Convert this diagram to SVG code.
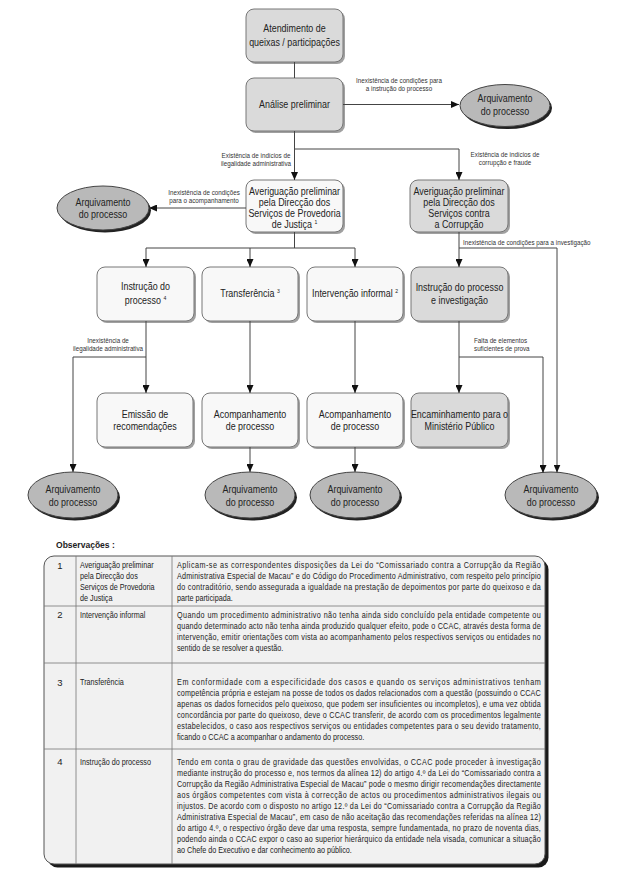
<svg xmlns="http://www.w3.org/2000/svg" width="619" height="873" viewBox="0 0 619 873">
<defs>
<marker id="ah" markerWidth="8" markerHeight="7" refX="8" refY="3.5" orient="auto" markerUnits="userSpaceOnUse"><path d="M0,0 L8,3.5 L0,7 z" fill="#111"/></marker>
</defs>
<style>
text{font-family:"Liberation Sans",Arial,sans-serif;fill:#222}
.nl{font-size:10.5px;text-anchor:middle}
.sl{font-size:7.2px;fill:#333}
.c{text-anchor:middle}
.box{stroke:#777;stroke-width:1}
.g{fill:#dadada}
.w{fill:#f8f8f8}
.sh{fill:#a0a0a0}
.ell{fill:#b9b9b9;stroke:#444;stroke-width:1}
.esh{fill:#222}
.con path{fill:none;stroke:#444;stroke-width:1}
.arr{marker-end:url(#ah)}
.tb{font-size:8.5px}
.num{font-size:9.5px;text-anchor:middle}
.tl{stroke:#777;stroke-width:0.8;fill:none}
.sup{font-size:6px}
</style>
<rect width="619" height="873" fill="#fff"/>

<g id="n1"><rect class="sh" x="248" y="11" width="97" height="53" rx="8"/><rect class="box g" x="246" y="9" width="97" height="53" rx="8"/><text class="nl" transform="translate(294.5 0) scale(.85 1)"><tspan x="0" y="32.5">Atendimento de</tspan><tspan x="0" y="46.5">queixas / participações</tspan></text></g>
<g id="n2"><rect class="sh" x="248" y="80" width="97" height="53" rx="8"/><rect class="box g" x="246" y="78" width="97" height="53" rx="8"/><text class="nl" transform="translate(294.5 0) scale(.85 1)"><tspan x="0" y="108">Análise preliminar</tspan></text></g>
<g id="e1"><ellipse class="esh" cx="507" cy="108" rx="45" ry="21"/><ellipse class="ell" cx="505" cy="105.5" rx="45" ry="21"/><text class="nl" transform="translate(505 0) scale(.85 1)"><tspan x="0" y="102.5">Arquivamento</tspan><tspan x="0" y="115">do processo</tspan></text></g>

<g id="n3"><rect class="sh" x="248" y="182" width="97" height="52" rx="8"/><rect class="box w" x="246" y="180" width="97" height="52" rx="8"/><text class="nl" transform="translate(294.5 0) scale(.85 1)"><tspan x="0" y="195.5">Averiguação preliminar</tspan><tspan x="0" y="206.5">pela Direcção dos</tspan><tspan x="0" y="217">Serviços de Provedoria</tspan><tspan x="0" y="228">de Justiça <tspan class="sup" dy="-4">1</tspan></tspan></text></g>
<g id="n4"><rect class="sh" x="412" y="182" width="98" height="52" rx="8"/><rect class="box g" x="410" y="180" width="98" height="52" rx="8"/><text class="nl" transform="translate(459 0) scale(.85 1)"><tspan x="0" y="195.5">Averiguação preliminar</tspan><tspan x="0" y="206.5">pela Direcção dos</tspan><tspan x="0" y="217">Serviços contra</tspan><tspan x="0" y="228">a Corrupção</tspan></text></g>
<g id="e2"><ellipse class="esh" cx="105" cy="210.5" rx="46" ry="22"/><ellipse class="ell" cx="103" cy="208" rx="46" ry="22"/><text class="nl" transform="translate(103 0) scale(.85 1)"><tspan x="0" y="206">Arquivamento</tspan><tspan x="0" y="218.5">do processo</tspan></text></g>

<g id="n5"><rect class="sh" x="99" y="269" width="97" height="54" rx="8"/><rect class="box w" x="97" y="267" width="97" height="54" rx="8"/><text class="nl" transform="translate(145.5 0) scale(.85 1)"><tspan x="0" y="290">Instrução do</tspan><tspan x="0" y="304">processo <tspan class="sup" dy="-4">4</tspan></tspan></text></g>
<g id="n6"><rect class="sh" x="204" y="269" width="96" height="54" rx="8"/><rect class="box w" x="202" y="267" width="96" height="54" rx="8"/><text class="nl" transform="translate(250 0) scale(.85 1)"><tspan x="0" y="297.5">Transferência <tspan class="sup" dy="-4">3</tspan></tspan></text></g>
<g id="n7"><rect class="sh" x="309" y="269" width="96" height="54" rx="8"/><rect class="box w" x="307" y="267" width="96" height="54" rx="8"/><text class="nl" transform="translate(355 0) scale(.85 1)"><tspan x="0" y="297.5">Intervenção informal <tspan class="sup" dy="-4">2</tspan></tspan></text></g>
<g id="n8"><rect class="sh" x="413" y="269" width="97" height="54" rx="8"/><rect class="box g" x="411" y="267" width="97" height="54" rx="8"/><text class="nl" transform="translate(459.5 0) scale(.85 1)"><tspan x="0" y="291.5">Instrução do processo</tspan><tspan x="0" y="304">e investigação</tspan></text></g>

<g id="n9"><rect class="sh" x="99" y="395" width="96" height="54" rx="8"/><rect class="box w" x="97" y="393" width="96" height="54" rx="8"/><text class="nl" transform="translate(145 0) scale(.85 1)"><tspan x="0" y="418.5">Emissão de</tspan><tspan x="0" y="430.5">recomendações</tspan></text></g>
<g id="n10"><rect class="sh" x="204" y="395" width="96" height="54" rx="8"/><rect class="box w" x="202" y="393" width="96" height="54" rx="8"/><text class="nl" transform="translate(250 0) scale(.85 1)"><tspan x="0" y="418.5">Acompanhamento</tspan><tspan x="0" y="430.5">de processo</tspan></text></g>
<g id="n11"><rect class="sh" x="309" y="395" width="96" height="54" rx="8"/><rect class="box w" x="307" y="393" width="96" height="54" rx="8"/><text class="nl" transform="translate(355 0) scale(.85 1)"><tspan x="0" y="418.5">Acompanhamento</tspan><tspan x="0" y="430.5">de processo</tspan></text></g>
<g id="n12"><rect class="sh" x="413" y="395" width="97" height="54" rx="8"/><rect class="box g" x="411" y="393" width="97" height="54" rx="8"/><text class="nl" transform="translate(459.5 0) scale(.85 1)"><tspan x="0" y="418.5">Encaminhamento para o</tspan><tspan x="0" y="430.5">Ministério Público</tspan></text></g>

<g id="e3"><ellipse class="esh" cx="75" cy="497.5" rx="45" ry="23"/><ellipse class="ell" cx="73" cy="495" rx="45" ry="23"/><text class="nl" transform="translate(73 0) scale(.85 1)"><tspan x="0" y="493.5">Arquivamento</tspan><tspan x="0" y="506">do processo</tspan></text></g>
<g id="e4"><ellipse class="esh" cx="252" cy="497.5" rx="45" ry="23"/><ellipse class="ell" cx="250" cy="495" rx="45" ry="23"/><text class="nl" transform="translate(250 0) scale(.85 1)"><tspan x="0" y="493.5">Arquivamento</tspan><tspan x="0" y="506">do processo</tspan></text></g>
<g id="e5"><ellipse class="esh" cx="357" cy="497.5" rx="45" ry="23"/><ellipse class="ell" cx="355" cy="495" rx="45" ry="23"/><text class="nl" transform="translate(355 0) scale(.85 1)"><tspan x="0" y="493.5">Arquivamento</tspan><tspan x="0" y="506">do processo</tspan></text></g>
<g id="e6"><ellipse class="esh" cx="553" cy="497.5" rx="46" ry="23"/><ellipse class="ell" cx="551" cy="495" rx="46" ry="23"/><text class="nl" transform="translate(551 0) scale(.85 1)"><tspan x="0" y="493.5">Arquivamento</tspan><tspan x="0" y="506">do processo</tspan></text></g>

<g id="connectors" class="con">
<path d="M294.5 62 V78"/>
<path class="arr" d="M343 104.5 H459"/>
<path class="arr" d="M294.5 131 V180"/>
<path class="arr" d="M294.5 149 H459 V180"/>
<path class="arr" d="M246 208 H149"/>
<path d="M294.5 232 V248 M146 248 H355"/>
<path class="arr" d="M146 248 V267"/>
<path class="arr" d="M250 248 V267"/>
<path class="arr" d="M355 248 V267"/>
<path class="arr" d="M459 232 V267"/>
<path class="arr" d="M459 248 H557 V472.5"/>
<path class="arr" d="M146 321 V393"/>
<path class="arr" d="M146 357 H73 V472"/>
<path class="arr" d="M250 321 V393"/>
<path class="arr" d="M355 321 V393"/>
<path class="arr" d="M459 321 V393"/>
<path class="arr" d="M459 357 H543 V473"/>
<path class="arr" d="M250 447 V472"/>
<path class="arr" d="M355 447 V472"/>
<text class="sl c" transform="translate(399 0) scale(.87 1)"><tspan x="0" y="83.5">Inexistência de condições para</tspan><tspan x="0" y="91.5">a instrução do processo</tspan></text>
<text class="sl c" transform="translate(256 0) scale(.87 1)"><tspan x="0" y="158.5">Existência de indícios de</tspan><tspan x="0" y="166.5">ilegalidade administrativa</tspan></text>
<text class="sl c" transform="translate(505 0) scale(.87 1)"><tspan x="0" y="157.5">Existência de indícios de</tspan><tspan x="0" y="165.5">corrupção e fraude</tspan></text>
<text class="sl c" transform="translate(204 0) scale(.87 1)"><tspan x="0" y="195.5">Inexistência de condições</tspan><tspan x="0" y="203.5">para o acompanhamento</tspan></text>
<text class="sl" transform="translate(463 0) scale(.87 1)"><tspan x="0" y="245.5">Inexistência de condições para a investigação</tspan></text>
<text class="sl c" transform="translate(108 0) scale(.87 1)"><tspan x="0" y="343.5">Inexistência de</tspan><tspan x="0" y="351.5">ilegalidade administrativa</tspan></text>
<text class="sl" transform="translate(474 0) scale(.87 1)"><tspan x="0" y="343.5">Falta de elementos</tspan><tspan x="0" y="351.5">suficientes de prova</tspan></text>
</g>

<g id="notes">
<text transform="translate(56 0) scale(.9 1)" style="font-size:9.5px;font-weight:bold"><tspan x="0" y="548">Observações :</tspan></text>
<rect x="47.5" y="559.5" width="501" height="308" rx="10" fill="#1a1a1a"/>
<rect x="44" y="556" width="501" height="308" rx="10" fill="#f1f1f1" stroke="#555" stroke-width="1"/>
<path class="tl" d="M44 606 H545 M44 663 H545 M44 749 H545 M76 556 V864 M172 556 V864"/>
<text class="num" x="60" y="569">1</text>
<text class="num" x="60" y="618">2</text>
<text class="num" x="60" y="686">3</text>
<text class="num" x="60" y="765">4</text>
<g transform="translate(80 0) scale(.85 1)" class="tb">
<text x="0" y="568">Averiguação preliminar</text>
<text x="0" y="579">pela Direcção dos</text>
<text x="0" y="590">Serviços de Provedoria</text>
<text x="0" y="601">de Justiça</text>
<text x="0" y="618">Intervenção informal</text>
<text x="0" y="685">Transferência</text>
<text x="0" y="765">Instrução do processo</text>
</g>
<g transform="translate(177 0) scale(.85 1)" class="tb">
<text x="0" y="568" textLength="428" lengthAdjust="spacing">Aplicam-se as correspondentes disposições da Lei do “Comissariado contra a Corrupção da Região</text>
<text x="0" y="579" textLength="428" lengthAdjust="spacing">Administrativa Especial de Macau” e do Código do Procedimento Administrativo, com respeito pelo princípio</text>
<text x="0" y="590" textLength="428" lengthAdjust="spacing">do contraditório, sendo assegurada a igualdade na prestação de depoimentos por parte do queixoso e da</text>
<text x="0" y="601">parte participada.</text>
<text x="0" y="618" textLength="428" lengthAdjust="spacing">Quando um procedimento administrativo não tenha ainda sido concluído pela entidade competente ou</text>
<text x="0" y="629" textLength="428" lengthAdjust="spacing">quando determinado acto não tenha ainda produzido qualquer efeito, pode o CCAC, através desta forma de</text>
<text x="0" y="640" textLength="428" lengthAdjust="spacing">intervenção, emitir orientações com vista ao acompanhamento pelos respectivos serviços ou entidades no</text>
<text x="0" y="651">sentido de se resolver a questão.</text>
<text x="0" y="685" textLength="428" lengthAdjust="spacing">Em conformidade com a especificidade dos casos e quando os serviços administrativos tenham</text>
<text x="0" y="696" textLength="428" lengthAdjust="spacing">competência própria e estejam na posse de todos os dados relacionados com a questão (possuindo o CCAC</text>
<text x="0" y="707" textLength="428" lengthAdjust="spacing">apenas os dados fornecidos pelo queixoso, que podem ser insuficientes ou incompletos), e uma vez obtida</text>
<text x="0" y="718" textLength="428" lengthAdjust="spacing">concordância por parte do queixoso, deve o CCAC transferir, de acordo com os procedimentos legalmente</text>
<text x="0" y="729" textLength="428" lengthAdjust="spacing">estabelecidos, o caso aos respectivos serviços ou entidades competentes para o seu devido tratamento,</text>
<text x="0" y="740">ficando o CCAC a acompanhar o andamento do processo.</text>
<text x="0" y="765" textLength="428" lengthAdjust="spacing">Tendo em conta o grau de gravidade das questões envolvidas, o CCAC pode proceder à investigação</text>
<text x="0" y="776" textLength="428" lengthAdjust="spacing">mediante instrução do processo e, nos termos da alínea 12) do artigo 4.º da Lei do “Comissariado contra a</text>
<text x="0" y="787" textLength="428" lengthAdjust="spacing">Corrupção da Região Administrativa Especial de Macau” pode o mesmo dirigir recomendações directamente</text>
<text x="0" y="798" textLength="428" lengthAdjust="spacing">aos órgãos competentes com vista à correcção de actos ou procedimentos administrativos ilegais ou</text>
<text x="0" y="809" textLength="428" lengthAdjust="spacing">injustos. De acordo com o disposto no artigo 12.º da Lei do “Comissariado contra a Corrupção da Região</text>
<text x="0" y="820" textLength="428" lengthAdjust="spacing">Administrativa Especial de Macau”, em caso de não aceitação das recomendações referidas na alínea 12)</text>
<text x="0" y="831" textLength="428" lengthAdjust="spacing">do artigo 4.º, o respectivo órgão deve dar uma resposta, sempre fundamentada, no prazo de noventa dias,</text>
<text x="0" y="842" textLength="428" lengthAdjust="spacing">podendo ainda o CCAC expor o caso ao superior hierárquico da entidade nela visada, comunicar a situação</text>
<text x="0" y="853">ao Chefe do Executivo e dar conhecimento ao público.</text>
</g>
</g>
</svg>
